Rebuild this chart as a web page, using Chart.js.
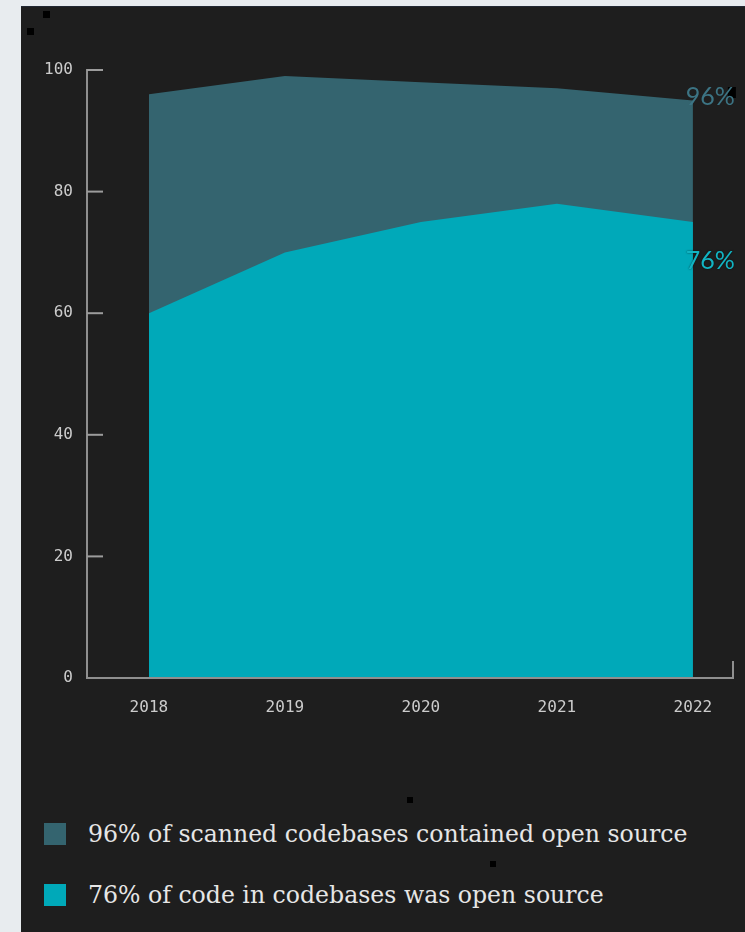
<!DOCTYPE html>
<html>
<head>
<meta charset="utf-8">
<script src="https://cdn.jsdelivr.net/npm/chart.js@4.4.0/dist/chart.umd.min.js"></script>
<style>
  html, body { margin: 0; padding: 0; }
  body { width: 745px; height: 932px; background: #e8ecef; position: relative; overflow: hidden; }
  .panel { position: absolute; left: 21px; top: 6px; width: 724px; height: 926px; background: #1e1e1e; border-top: 1px solid #222833; box-sizing: border-box; }
  #chart { position: absolute; left: 0; top: 0; }
  .dot { position: absolute; width: 7px; height: 7px; background: #000; }
  .legend { position: absolute; left: 44px; top: 822px; font-family: "DejaVu Serif", serif; font-size: 23.6px; color: #e6e6e6; }
  .legend-row { display: flex; align-items: center; height: 24px; margin-bottom: 37px; }
  .legend-row span.box { width: 22px; height: 22px; margin-right: 22px; flex: none; }
</style>
</head>
<body>
<div class="panel"></div>
<canvas id="chart" width="745" height="760"></canvas>
<div class="dot" style="left:43px;top:11px"></div>
<div class="dot" style="left:27px;top:28px"></div>
<div class="dot" style="left:407px;top:797px;width:6px;height:6px"></div>
<div class="dot" style="left:490px;top:861px;width:6px;height:6px"></div>
<div class="legend" id="legend"></div>

<script>
// chart data
const years = [2018, 2019, 2020, 2021, 2022];
const containedOpenSource = [96, 99, 98, 97, 95];
const codeOpenSource = [60, 70, 75, 78, 75];
const yTicks = [0, 20, 40, 60, 80, 100];

const seriesNames = [
  "96% of scanned codebases contained open source",
  "76% of code in codebases was open source"
];
const endLabels = ["96%", "76%"];

const slate = '#34646f';
const teal = '#00a9b9';

// legend in html
const legend = document.getElementById("legend");
legend.innerHTML = `
<div class="legend-row"><span class="box" style="background:${slate}"></span>${seriesNames[0]}</div>
<div class="legend-row"><span class="box" style="background:${teal}"></span>${seriesNames[1]}</div>
`;

// axis lines, inner ticks and the end labels
const axisPlugin = {
  id: 'axisPlugin',
  afterDraw(chart) {
    const ctx = chart.ctx;
    const x = chart.scales.x;
    const y = chart.scales.y;
    const left = x.left, right = x.right, bottom = y.bottom;
    ctx.save();
    ctx.strokeStyle = '#8f8f8f';
    ctx.lineWidth = 2;
    ctx.beginPath();
    ctx.moveTo(left, y.top - 1);
    ctx.lineTo(left, bottom);
    ctx.lineTo(right, bottom);
    ctx.lineTo(right, bottom - 17);
    ctx.stroke();
    ctx.strokeStyle = '#9c9c9c';
    yTicks.forEach(v => {
      if (v === 0) return;
      const py = y.getPixelForValue(v);
      ctx.beginPath();
      ctx.moveTo(left, py);
      ctx.lineTo(left + 16, py);
      ctx.stroke();
    });

    ctx.font = '25px Lato, "Noto Sans", sans-serif';
    ctx.textAlign = 'right';
    ctx.textBaseline = 'middle';
    const lx = x.getPixelForValue(years[years.length - 1]) + 42;
    ctx.fillStyle = '#000';
    ctx.fillRect(lx - 7, 87, 8, 11);
    ctx.fillStyle = '#3c7484';
    ctx.fillText(endLabels[0], lx, y.getPixelForValue(containedOpenSource[4]) - 3);
    ctx.fillStyle = '#12b4c3';
    ctx.shadowColor = 'rgba(0,0,0,0.6)';
    ctx.shadowBlur = 2;
    ctx.fillText(endLabels[1], lx, y.getPixelForValue(codeOpenSource[4]) + 39);
    ctx.restore();
  }
};

const chartCanvas = document.getElementById("chart");

let areaChart = new Chart(chartCanvas, {
  type: 'line',
  data: {
    datasets: [
      {
        label: seriesNames[1],
        data: years.map((yr, i) => ({ x: yr, y: codeOpenSource[i] })),
        backgroundColor: teal,
        borderWidth: 0,
        pointRadius: 0,
        fill: 'origin'
      },
      {
        label: seriesNames[0],
        data: years.map((yr, i) => ({ x: yr, y: containedOpenSource[i] })),
        backgroundColor: slate,
        borderWidth: 0,
        pointRadius: 0,
        fill: 'origin'
      }
    ]
  },
  options: {
    responsive: false,
    animation: { duration: 0 },
    layout: { padding: { left: 0, right: 12, top: 70, bottom: 32 } },
    scales: {
      x: {
        type: 'linear',
        min: 2017.545,
        max: 2022.295,
        grid: { display: false, drawTicks: false },
        border: { display: false },
        afterBuildTicks: scale => { scale.ticks = years.map(v => ({ value: v })); },
        afterFit: scale => { scale.height = 50; },
        ticks: {
          padding: 20,
          color: '#cccccc',
          font: { family: '"DejaVu Sans Mono", monospace', size: 16 },
          callback: v => String(v)
        }
      },
      y: {
        min: 0,
        max: 100,
        grid: { display: false, drawTicks: false },
        border: { display: false },
        afterBuildTicks: scale => { scale.ticks = yTicks.map(v => ({ value: v })); },
        afterFit: scale => { scale.width = 87; },
        ticks: {
          padding: 14,
          color: '#cccccc',
          font: { family: '"DejaVu Sans Mono", monospace', size: 16 }
        }
      }
    },
    plugins: {
      legend: { display: false },
      tooltip: { enabled: false }
    }
  },
  plugins: [axisPlugin]
});
</script>
</body>
</html>
